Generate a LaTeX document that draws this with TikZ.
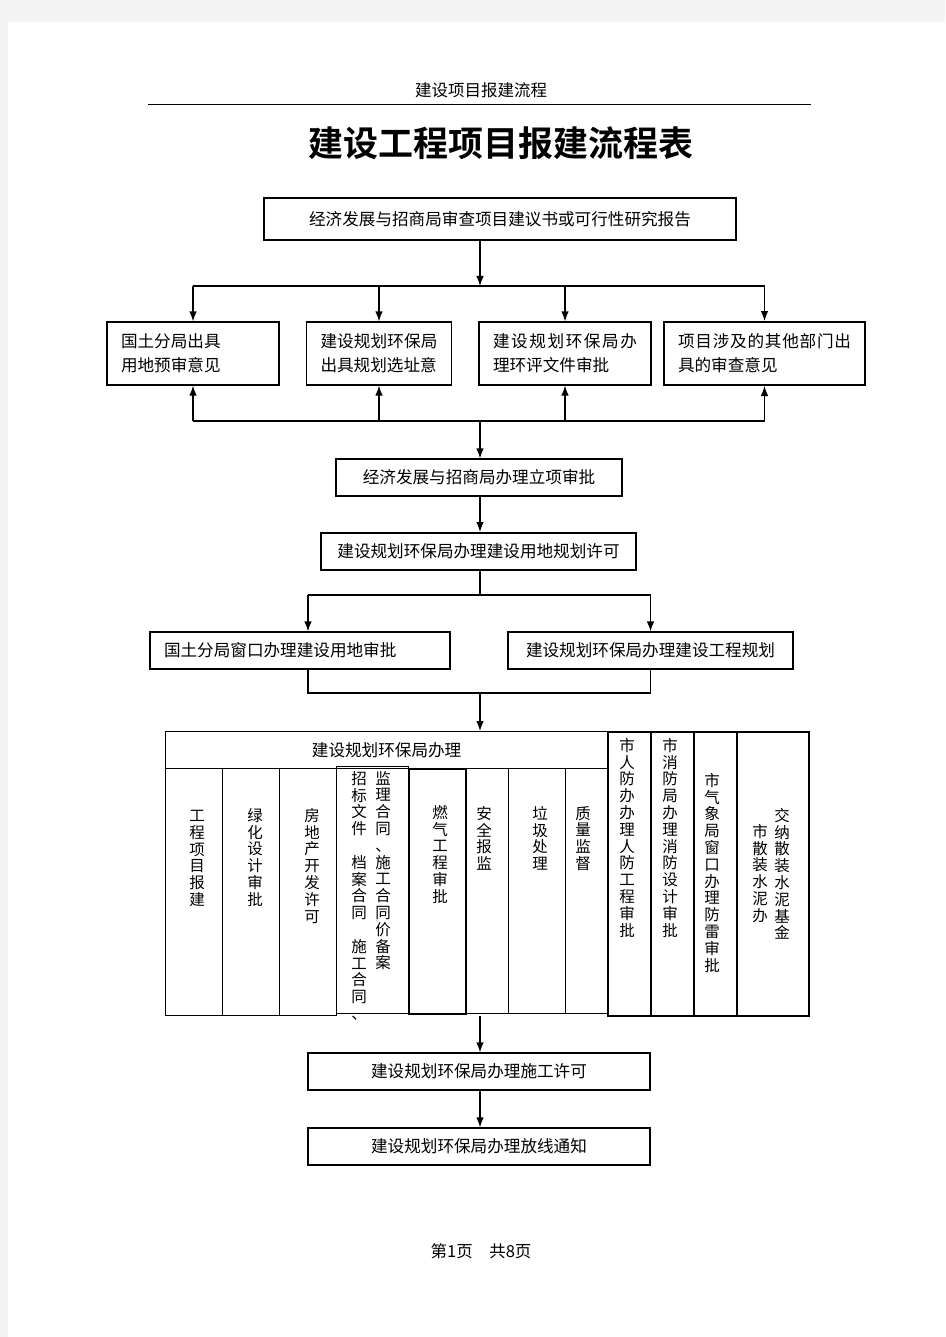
\documentclass[tikz,border=0pt]{standalone}
\usepackage{fontspec}
\setmainfont{Noto Sans CJK SC}[BoldFont={Noto Sans CJK SC Bold}]
\usetikzlibrary{arrows.meta}
\XeTeXlinebreaklocale "zh"
\XeTeXlinebreakskip = 0pt plus 2pt
\definecolor{pagegray}{RGB}{243,243,243}
\tikzstyle{box} = [rectangle, draw, line width=1.2pt, inner sep=0pt, text centered, font=\fontsize{16.6}{24}\selectfont]
\tikzstyle{wbox} = [box, align=justify, inner xsep=14pt, minimum height=63pt]
\tikzstyle{cell} = [rectangle, draw, line width=1.2pt, inner sep=0pt, anchor=north west, font=\fontsize{16.6}{24}\selectfont]
\tikzstyle{vtext} = [anchor=north, align=center, inner sep=0pt, font=\fontsize{15.5}{16.8}\selectfont]
\tikzstyle{line} = [draw, line width=1.2pt, -{Latex[length=10pt,width=7.5pt]}]

\begin{document}
\begin{tikzpicture}[x=1pt, y=-1pt]
    % page
    \fill[pagegray] (0,0) rectangle (945,1337);
    \fill[white] (8,22) rectangle (945,1337);
    \node[font=\fontsize{16.5}{20}\selectfont] (head) at (481,90) {建设项目报建流程};
    \draw[line width=0.9pt] (148,104) -- (811,104);
    \node[font=\fontsize{35}{40}\selectfont\bfseries] (title) at (501,143) {建设工程项目报建流程表};

    % first stage
    \node[box, minimum width=472pt, minimum height=42pt] (report) at (500,219) {经济发展与招商局审查项目建议书或可行性研究报告};
    \node[wbox, text width=144pt] (land) at (193,353.5) {国土分局出具\\用地预审意见};
    \node[wbox, text width=117pt] (site) at (379,353.5) {建设规划环保局出具规划选址意};
    \node[wbox, text width=144pt] (env) at (565,353.5) {建设规划环保局办理环评文件审批};
    \node[wbox, line width=2pt, text width=173pt] (other) at (764.5,353.5) {项目涉及的其他部门出具的审查意见};
    \node[box, minimum width=286pt, minimum height=37pt] (approve) at (479,477.5) {经济发展与招商局办理立项审批};
    \node[box, line width=2pt, minimum width=315pt, minimum height=37pt] (landplan) at (478.5,551.5) {建设规划环保局办理建设用地规划许可};
    \node[wbox, minimum height=37pt, text width=272pt] (landuse) at (300,650.5) {国土分局窗口办理建设用地审批};
    \node[box, minimum width=285pt, minimum height=37pt] (works) at (650.5,650.5) {建设规划环保局办理建设工程规划};

    \coordinate (b1) at (480,286);
    \coordinate (b2) at (480,421);
    \coordinate (b3) at (480,595);
    \coordinate (b4) at (480,693);
    \coordinate (lu) at (308,595);

    \path[line] (report.south -| b1) -- (b1);
    \draw[line width=1.2pt] (land.north |- b1) -- (other.north |- b1);
    \draw[line width=1.2pt] (land.south |- b2) -- (other.south |- b2);
    \foreach \n in {land, site, env, other} {
        \path[line] (\n.north |- b1) -- (\n.north);
        \path[line] (\n.south |- b2) -- (\n.south);
    }
    \path[line] (b2) -- (b2 |- approve.north);
    \path[line] (approve.south -| b2) -- (landplan.north -| b2);
    \draw[line width=1.2pt] (landplan.south -| b3) -- (b3);
    \draw[line width=2pt] (lu) -- (works.north |- b3);
    \path[line] (lu) -- (lu |- landuse.north);
    \path[line] (works.north |- b3) -- (works.north);
    \draw[line width=1.2pt] (lu |- landuse.south) -- (lu |- b4) -- (works.south |- b4) -- (works.south);

    % table of departments
    \node[cell, minimum width=442pt, minimum height=37pt] (hdr) at (165,731) {建设规划环保局办理};
    \node[cell, minimum width=57pt, minimum height=247pt] (c1) at (165,768) {};
    \node[cell, minimum width=57pt, minimum height=247pt] (c2) at (222,768) {};
    \node[cell, minimum width=57pt, minimum height=247pt] (c3) at (279,768) {};
    \node[cell, minimum width=72pt, minimum height=247pt] (c4) at (336,766) {};
    \node[cell, line width=1.6pt, minimum width=57pt, minimum height=245pt] (c5) at (408,768) {};
    \node[cell, minimum width=43pt, minimum height=245pt] (c6) at (465,768) {};
    \node[cell, minimum width=57pt, minimum height=245pt] (c7) at (508,768) {};
    \node[cell, minimum width=42pt, minimum height=245pt] (c8) at (565,768) {};
    \node[cell, line width=1.6pt, minimum width=43pt, minimum height=284pt] (r1) at (607,731) {};
    \node[cell, line width=1.6pt, minimum width=43pt, minimum height=284pt] (r2) at (650,731) {};
    \node[cell, line width=1.6pt, minimum width=43pt, minimum height=284pt] (r3) at (693,731) {};
    \node[cell, line width=1.6pt, minimum width=72pt, minimum height=284pt] (r4) at (736,731) {};

    \node[vtext] (t1) at (197,810) {工\\程\\项\\目\\报\\建};
    \node[vtext] (t2) at (255,808) {绿\\化\\设\\计\\审\\批};
    \node[vtext] (t3) at (312,808) {房\\地\\产\\开\\发\\许\\可};
    \node[vtext] (t4a) at (359,771) {招\\标\\文\\件\\[16.8pt]档\\案\\合\\同\\[16.8pt]施\\工\\合\\同\\、};
    \node[vtext] (t4b) at (383,771) {监\\理\\合\\同\\、\\施\\工\\合\\同\\价\\备\\案};
    \node[vtext] (t5) at (440,805) {燃\\气\\工\\程\\审\\批};
    \node[vtext] (t6) at (484,806) {安\\全\\报\\监};
    \node[vtext] (t7) at (540,806) {垃\\圾\\处\\理};
    \node[vtext] (t8) at (583,806) {质\\量\\监\\督};
    \node[vtext] (u1) at (627,738) {市\\人\\防\\办\\办\\理\\人\\防\\工\\程\\审\\批};
    \node[vtext] (u2) at (670,738) {市\\消\\防\\局\\办\\理\\消\\防\\设\\计\\审\\批};
    \node[vtext] (u3) at (712,773) {市\\气\\象\\局\\窗\\口\\办\\理\\防\\雷\\审\\批};
    \node[vtext] (u4a) at (782,808) {交\\纳\\散\\装\\水\\泥\\基\\金};
    \node[vtext] (u4b) at (760,824) {市\\散\\装\\水\\泥\\办};

    \path[line] (b4) -- (b4 |- hdr.north);

    % last stage
    \node[box, minimum width=342pt, minimum height=37pt] (permit) at (479,1071.5) {建设规划环保局办理施工许可};
    \node[box, minimum width=342pt, minimum height=37pt] (setout) at (479,1146.5) {建设规划环保局办理放线通知};
    \path[line] (c1.south -| b4) -- (permit.north -| b4);
    \path[line] (permit.south -| b4) -- (setout.north -| b4);

    \node[font=\fontsize{16.5}{20}\selectfont] (foot) at (481,1251) {第1页　共8页};
\end{tikzpicture}
\end{document}
